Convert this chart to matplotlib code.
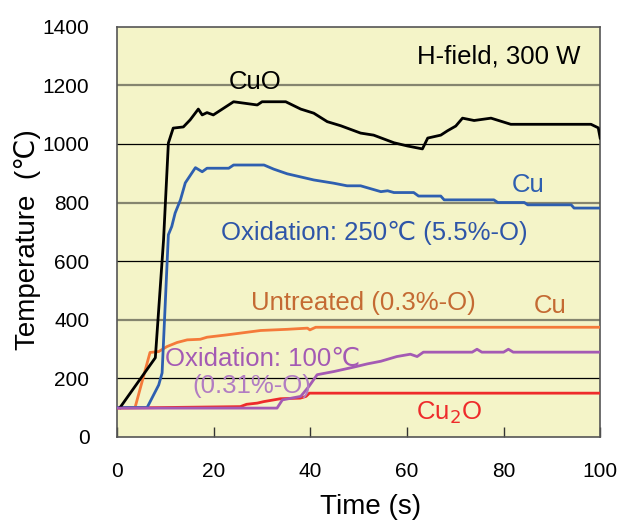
import matplotlib.pyplot as plt
from matplotlib import font_manager

# heating curves, H-field 300 W
t_cuo = [0.6, 7.9, 9.6, 10.6, 11.6, 13.7, 15.1, 16.8, 17.6, 18.6, 19.9, 24.1, 29.0, 30.0, 34.9,
         38.0, 40.7, 43.5, 46.3, 50.4, 53.1, 57.3, 60.1, 63.2, 64.3, 67.0, 68.4, 70.1, 71.5,
         73.9, 77.4, 81.5, 98.1, 99.6, 100.0]
T_cuo = [100, 270, 672, 1003, 1054, 1058, 1082, 1119, 1099, 1107, 1099, 1144, 1133, 1144, 1144,
         1119, 1105, 1076, 1062, 1037, 1030, 1004, 993, 983, 1020, 1030, 1045, 1061, 1088,
         1080, 1088, 1067, 1067, 1055, 1020]

t_ox250 = [0, 6.2, 8.6, 9.3, 10.6, 11.3, 12.0, 13.1, 14.1, 16.2, 17.6, 18.6, 23.1, 24.1, 30.4,
           32.4, 35.2, 40.7, 44.8, 47.6, 50.4, 54.6, 56.0, 57.3, 61.4, 62.4, 67.0, 67.7, 78.0,
           78.8, 84.3, 85.0, 94.0, 94.6, 100]
T_ox250 = [100, 100, 177, 218, 690, 718, 764, 809, 867, 919, 905, 917, 917, 928, 928,
           914, 898, 877, 866, 857, 857, 837, 840, 834, 834, 822, 822, 809, 809,
           800, 800, 792, 792, 781, 781]

t_untr = [0, 3.7, 6.8, 8.6, 10.3, 12.4, 14.5, 17.2, 18.6, 22.7, 25.5, 29.7, 35.2, 39.4, 39.9,
          41.1, 100]
T_untr = [100, 100, 288, 291, 308, 322, 331, 333, 340, 348, 354, 363, 367, 371, 365,
          374, 374]

t_ox100 = [0, 33.1, 34.2, 38.0, 39.7, 41.4, 44.9, 49.0, 51.8, 54.6, 57.9, 60.7, 62.1, 63.4,
           73.5, 74.5, 75.5, 80.0, 81.0, 82.0, 100]
T_ox100 = [98, 98, 126, 138, 172, 212, 223, 238, 249, 258, 274, 282, 274, 289,
           289, 299, 289, 289, 299, 289, 289]

t_cu2o = [0, 25.5, 26.8, 29.0, 30.3, 32.4, 33.8, 37.9, 39.1, 39.8, 100]
T_cu2o = [98, 103, 111, 115, 120, 126, 130, 132, 138, 149, 149]

x_ticks = [0, 20, 40, 60, 80, 100]
y_ticks = [0, 200, 400, 600, 800, 1000, 1200, 1400]

installed = {f.name for f in font_manager.fontManager.ttflist}
narrow = 'Liberation Sans Narrow' if 'Liberation Sans Narrow' in installed else None
plt.rcParams['font.family'] = ['Liberation Sans', 'DejaVu Sans']

fig = plt.figure(figsize=(6.2, 5.25), dpi=100)
ax = fig.add_axes([0.189, 0.168, 0.779, 0.781])
ax.set_facecolor('#F4F4C8')

# alternating grid lines, olive and black
for y in y_ticks[1:-1]:
    if y % 400 == 0:
        ax.axhline(y, color='#85856F', lw=1.6, zorder=1)
    else:
        ax.axhline(y, color='black', lw=0.9, zorder=1)

ax.plot(t_cu2o, T_cu2o, color='#EE2B2B', lw=2, zorder=3)
ax.plot(t_ox100, T_ox100, color='#A45AB4', lw=2, zorder=4)
ax.plot(t_untr, T_untr, color='#F47A3A', lw=2, zorder=3)
ax.plot(t_ox250, T_ox250, color='#2E5FB0', lw=2, zorder=3)
ax.plot(t_cuo, T_cuo, color='black', lw=2, zorder=3)

ax.set_xlim(0, 100)
ax.set_ylim(0, 1400)
ax.set_xticks(x_ticks)
ax.set_yticks(y_ticks)
ax.tick_params(axis='x', direction='in', length=7, width=1, pad=18, color='#333333')
ax.tick_params(axis='y', length=0, pad=20)
for lab in ax.get_xticklabels() + ax.get_yticklabels():
    if narrow:
        lab.set_family([narrow, 'DejaVu Sans'])
        lab.set_fontsize(16.5)
    else:
        lab.set_fontsize(15)
for s in ax.spines.values():
    s.set_color('#555555')
    s.set_linewidth(1.2)

ax.set_xlabel('Time (s)', fontsize=20)
ax.set_ylabel('Temperature  (\u2103)', fontsize=20)
ax.xaxis.set_label_coords(0.524, -0.14)
ax.yaxis.set_label_coords(-0.157, 0.48)

fs = 18.5
ax.text(28.6, 1213, 'CuO', color='black', fontsize=fs, ha='center', va='center', zorder=5)
ax.text(78.9, 1300, 'H-field, 300 W', color='black', fontsize=fs, ha='center', va='center')
ax.text(85, 860, 'Cu', color='#2E5FB0', fontsize=fs, ha='center', va='center')
ax.text(53.2, 696, 'Oxidation: 250\u2103 (5.5%-O)', color='#2E55A8', fontsize=fs,
        ha='center', va='center')
ax.text(51, 457, 'Untreated (0.3%-O)', color='#C46A33', fontsize=fs, ha='center', va='center')
ax.text(89.6, 445, 'Cu', color='#C46A33', fontsize=fs, ha='center', va='center')
ax.text(30, 266, 'Oxidation: 100\u2103', color='#A45AB4', fontsize=fs, ha='center',
        va='center', zorder=5)
ax.text(27.8, 172, '(0.31%-O)', color='#B27DC2', fontsize=fs, ha='center', va='center',
        zorder=5)
ax.text(68.8, 82, 'Cu$_2$O', color='#EE2B2B', fontsize=fs, ha='center', va='center')

fig.savefig('out.png', dpi=100)
